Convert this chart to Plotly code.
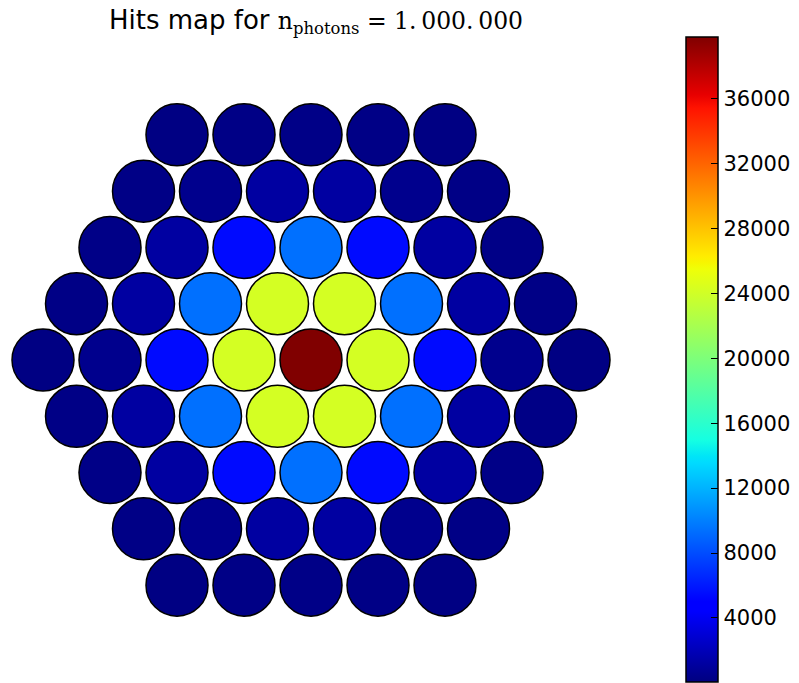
import numpy as np
import plotly.graph_objects as go

# Hit counts per photodetector, one list per row of the hexagonal array (top to bottom)
row_m4 = [150, 250, 300, 250, 150]
row_m3 = [250, 500, 1200, 1200, 500, 250]
row_m2 = [300, 1200, 5400, 9400, 5400, 1200, 300]
row_m1 = [250, 1200, 9400, 24200, 24200, 9400, 1200, 250]
row_0 = [150, 500, 5400, 24200, 39800, 24200, 5400, 500, 150]
row_p1 = [250, 1200, 9400, 24200, 24200, 9400, 1200, 250]
row_p2 = [300, 1200, 5400, 9400, 5400, 1200, 300]
row_p3 = [250, 500, 1200, 1200, 500, 250]
row_p4 = [150, 250, 300, 250, 150]

rows = [row_m4, row_m3, row_m2, row_m1, row_0, row_p1, row_p2, row_p3, row_p4]
cbar_ticks = [4000, 8000, 12000, 16000, 20000, 24000, 28000, 32000, 36000]
cmin, cmax = 50, 39800

# Hexagonal grid coordinates: unit pitch, rows sqrt(3)/2 apart
xs, ys, vals = [], [], []
n_rows = len(rows)
for i, row in enumerate(rows):
    r = i - n_rows // 2
    n = len(row)
    for j, v in enumerate(row):
        xs.append(j - (n - 1) / 2)
        ys.append(-r * np.sqrt(3) / 2)
        vals.append(v)

# matplotlib-style "jet" colormap as a plotly colorscale
red = [(0, 0), (0.35, 0), (0.66, 1), (0.89, 1), (1, 0.5)]
green = [(0, 0), (0.125, 0), (0.375, 1), (0.64, 1), (0.91, 0), (1, 0)]
blue = [(0, 0.5), (0.11, 1), (0.34, 1), (0.65, 0), (1, 0)]
stops = sorted({p for seg in (red, green, blue) for p, _ in seg})
def chan(seg, t):
    return np.interp(t, [p for p, _ in seg], [c for _, c in seg])
jet = [[t, "rgb(%d,%d,%d)" % (round(255 * chan(red, t)), round(255 * chan(green, t)), round(255 * chan(blue, t)))]
       for t in stops]

W, H = 799, 683
plot_w = 622
top = 37
plot_h = H - top
sx = 67.0   # pixels per unit, horizontal
sy = 65.0   # pixels per unit, vertical
cx_px, cy_px = 311, 360

fig = go.Figure(go.Scatter(
    x=xs, y=ys, mode="markers",
    marker=dict(
        size=62, color=vals, colorscale=jet, cmin=cmin, cmax=cmax,
        line=dict(color="black", width=1.5),
        colorbar=dict(
            x=686 / plot_w, xanchor="left",
            y=1 / plot_h, yanchor="bottom",
            lenmode="fraction", len=645 / plot_h, thickness=32,
            outlinecolor="black", outlinewidth=1.5,
            tickvals=cbar_ticks, tickformat="d",
            ticks="inside", ticklen=7, tickcolor="black", tickwidth=1,
            tickfont=dict(family="DejaVu Sans", size=21, color="black"),
            xpad=0, ypad=0,
        ),
    ),
    hoverinfo="skip",
))

fig.update_layout(
    width=W, height=H,
    margin=dict(l=0, r=W - plot_w, t=top, b=0),
    paper_bgcolor="white", plot_bgcolor="white",
    showlegend=False,
    title=dict(
        text=("Hits map for <span style='font-family:DejaVu Serif;font-size:23.5px'>n<sub>photons</sub>"
              " = 1.&#8201;000.&#8201;000</span>"),
        x=316 / W, xref="container", xanchor="center",
        y=1 - 20 / H, yref="container", yanchor="middle",
        font=dict(family="DejaVu Sans", size=26, color="black"),
    ),
    xaxis=dict(range=[-cx_px / sx, (plot_w - cx_px) / sx], visible=False),
    yaxis=dict(range=[-(H - cy_px) / sy, (cy_px - top) / sy], visible=False),
)

fig.write_html("out.html")
